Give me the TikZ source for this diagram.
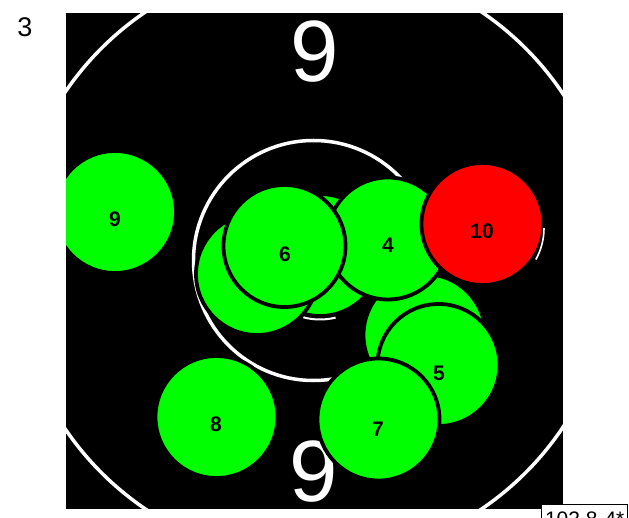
\documentclass[tikz,border=0pt]{standalone}
\usepackage{fontspec}
\setmainfont{Liberation Sans}
\definecolor{shotgreen}{RGB}{0,255,0}
\definecolor{shotred}{RGB}{255,0,0}
\begin{document}
\begin{tikzpicture}[x=1pt,y=-1pt,
  shot/.style={circle, draw=black, line width=3.8pt, minimum size=122pt, inner sep=0pt, fill=shotgreen},
  shotlabel/.style={font=\fontsize{21}{21}\selectfont\bfseries, text=black, inner sep=0pt},
  ring/.style={draw=white, line width=3.5pt},
  ringnum/.style={font=\fontsize{87}{87}\selectfont, text=white, inner sep=0pt},
  glint/.style={draw=white, line width=2pt}
]
\useasboundingbox (0,0) rectangle (629,518);
\clip (0,0) rectangle (629,518);
\node[font=\fontsize{27}{27}\selectfont, inner sep=0pt] (series) at (25,27.5) {3};
\begin{scope}
  \clip (66,13) rectangle (563,509);
  \fill[black] (66,13) rectangle (563,509);
  \coordinate (c) at (313.5,260.5);
  \draw[ring] (c) circle[radius=300];
  \draw[ring] (c) circle[radius=120];
  \node[ringnum] (ntop) at (315,51.5) {9};
  \node[ringnum] (nbot) at (314,472) {9};
  % shots in order
  \node[shot] (s1) at (320,255) {};
  \draw[glint] (s1.center) ++(76:64.5) arc[start angle=76, end angle=105, radius=64.5];
  \node[shot] (s2) at (257,274) {};
  \node[shot] (s3) at (424.5,335) {};
  \node[shot] (s4) at (388,238.5) {};
  \node[shot] (s5) at (438.5,365) {};
  \node[shot] (s6) at (284.5,246) {};
  \node[shot] (s7) at (378.5,419.5) {};
  \node[shot] (s8) at (216.5,417) {};
  \node[shot] (s9) at (115,212) {};
  \node[shot, fill=shotred] (s10) at (482.5,224) {};
  \coordinate (g10) at (479,228);
  \draw[glint, line width=1.6pt] (g10) ++(0:65) arc[start angle=0, end angle=29, radius=65];
  \node[shotlabel] (l4) at (388,245.5) {4};
  \node[shotlabel] (l5) at (439,373.5) {5};
  \node[shotlabel] (l6) at (285,254) {6};
  \node[shotlabel] (l7) at (378,429) {7};
  \node[shotlabel] (l8) at (216,424) {8};
  \node[shotlabel] (l9) at (115,219) {9};
  \node[shotlabel] (l10) at (482,231.5) {10};
\end{scope}
\node[draw=black, fill=white, line width=1pt, anchor=north west, inner xsep=3.5pt, inner ysep=7pt,
      text height=15pt, text depth=5pt, font=\fontsize{21}{21}\selectfont] (result) at (541,504) {102.8-4*};
\end{tikzpicture}
\end{document}
